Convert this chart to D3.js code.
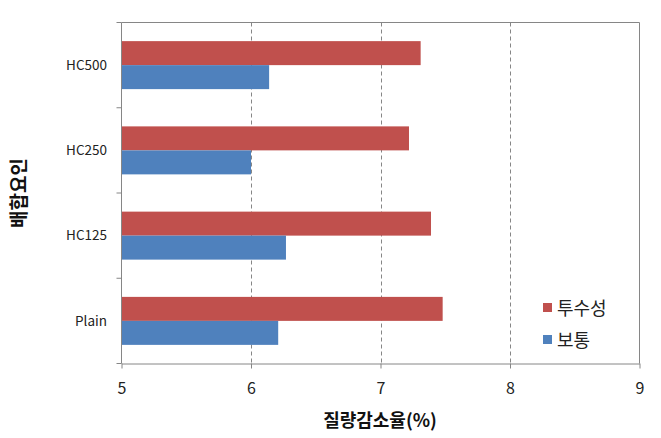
<!DOCTYPE html>
<html><head><meta charset="utf-8">
<script src="https://cdn.jsdelivr.net/npm/d3@7"></script>
<style>body{margin:0;background:#fff}svg{display:block}</style>
</head><body><svg id="c" width="661" height="438"></svg>
<script>
const categories = ["Plain","HC125","HC250","HC500"];
const seriesNames = ["투수성","보통"];
const permeable = [7.48, 7.39, 7.22, 7.31];
const normal = [6.21, 6.27, 6.00, 6.14];
const xTicks = [5,6,7,8,9];
const colors = ["#C0504D","#4F81BD"];

const svg = d3.select("#c");
const L=121.5, R=639.5, T=22.5, B=363.5;
const font = "'Noto Sans CJK KR','Noto Sans',sans-serif";
const axisCol = "#868686";

const x = d3.scaleLinear().domain([5,9]).range([L,R]);
const y0 = d3.scaleBand().domain(categories.slice().reverse()).range([T,B]).paddingInner(0.437).paddingOuter(0.2185);
const y1 = d3.scaleBand().domain(seriesNames).range([0,y0.bandwidth()]);

// gridlines
svg.append("g").selectAll("line").data(xTicks.filter(v=>v>5&&v<9)).join("line")
  .attr("x1",d=>Math.round(x(d))+0.5).attr("x2",d=>Math.round(x(d))+0.5)
  .attr("y1",T).attr("y2",B).attr("stroke",axisCol).attr("stroke-dasharray","4,3");

// border top/right
svg.append("line").attr("x1",L).attr("x2",R).attr("y1",T).attr("y2",T).attr("stroke",axisCol);
svg.append("line").attr("x1",R).attr("x2",R).attr("y1",T).attr("y2",B).attr("stroke",axisCol);

// bars
const data = categories.map((c,i)=>({c, vals:[permeable[i], normal[i]]}));
const g = svg.append("g").selectAll("g").data(data).join("g")
  .attr("transform",d=>`translate(0,${y0(d.c)})`);
g.selectAll("rect").data(d=>d.vals.map((v,j)=>({v,s:seriesNames[j],j}))).join("rect")
  .attr("x",x(5)).attr("y",d=>y1(d.s)).attr("width",d=>x(d.v)-x(5)).attr("height",y1.bandwidth())
  .attr("fill",d=>colors[d.j]);

// x axis
const xa = svg.append("g").attr("transform",`translate(0,${B})`)
  .call(d3.axisBottom(x).tickValues(xTicks).tickSize(5).tickSizeOuter(0).tickFormat(d3.format("d")));
xa.select(".domain").attr("stroke",axisCol);
xa.selectAll(".tick line").attr("stroke",axisCol);
xa.selectAll("text").attr("font-family",font).attr("font-size",16).attr("fill","#222").attr("dy","1.4em");

// y axis
svg.append("line").attr("x1",L).attr("x2",L).attr("y1",T).attr("y2",B).attr("stroke",axisCol);
const step = y0.step();
const bounds = categories.map(c=>y0(c)-step*0.437/2).concat([B]);
svg.append("g").selectAll("line").data(bounds).join("line")
  .attr("x1",L-5).attr("x2",L).attr("y1",d=>d).attr("y2",d=>d).attr("stroke",axisCol);
svg.append("g").selectAll("text").data(categories).join("text")
  .attr("x",107).attr("y",c=>y0(c)+y0.bandwidth()/2).attr("dy","0.35em")
  .attr("text-anchor","end").attr("font-family",font).attr("font-size",13.5).attr("fill","#222").text(c=>c);

// axis titles
svg.append("text").attr("x",380).attr("y",427).attr("text-anchor","middle")
  .attr("font-family",font).attr("font-weight","bold").attr("font-size",18).attr("fill","#111").text("질량감소율(%)");
svg.append("text").attr("transform","translate(26,193) rotate(-90)").attr("text-anchor","middle")
  .attr("font-family",font).attr("font-weight","bold").attr("font-size",19).attr("fill","#111").text("배합요인");

// legend
const lg = svg.append("g").selectAll("g").data(seriesNames).join("g")
  .attr("transform",(d,i)=>`translate(543,${303+i*32})`);
lg.append("rect").attr("width",9).attr("height",9).attr("fill",(d,i)=>colors[i]);
lg.append("text").attr("x",14).attr("y",5).attr("dy","0.38em").attr("font-family",font).attr("font-size",18).attr("fill","#222").text(d=>d);
</script></body></html>
